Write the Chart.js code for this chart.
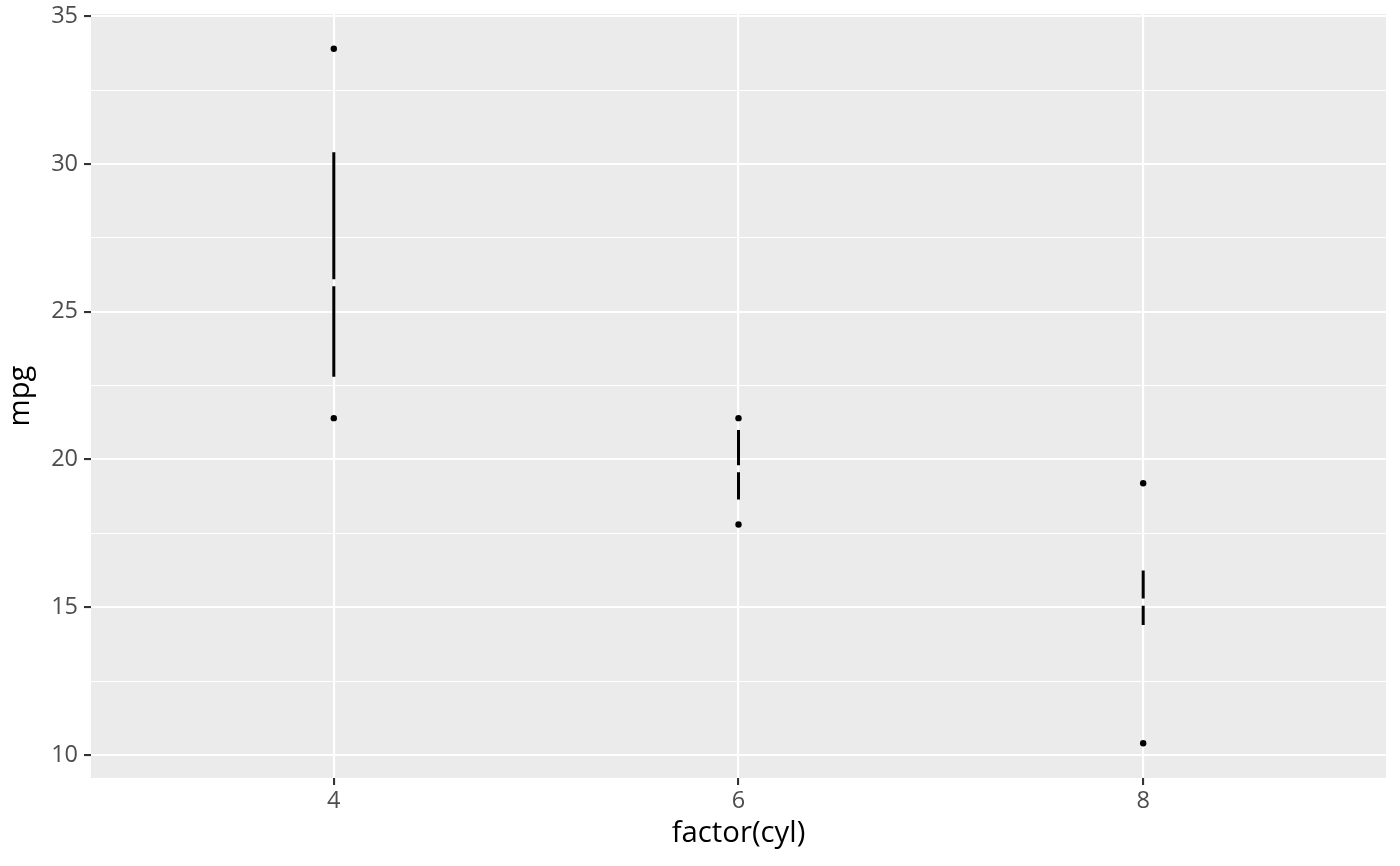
<!DOCTYPE html>
<html>
<head>
<meta charset="utf-8">
<script src="https://cdn.jsdelivr.net/npm/chart.js@4/dist/chart.umd.min.js"></script>
<style>
  html, body { margin: 0; padding: 0; background: #ffffff; }
  #chart { display: block; }
</style>
</head>
<body>
<canvas id="chart" width="1400" height="866" style="width:1400px;height:866px"></canvas>
<script>
// mpg by cylinder count (tufte style box plot)
const cylLabels = ['4', '6', '8'];
const mpgMin = [21.4, 17.8, 10.4];
const mpgMax = [33.9, 21.4, 19.2];
const mpgQ1 = [22.8, 18.65, 14.4];
const mpgQ3 = [30.4, 21.0, 16.25];
// ends of the gap drawn round the median
const gapLow = [25.86, 19.57, 15.05];
const gapHigh = [26.1, 19.81, 15.3];

const yTicks = [10, 12.5, 15, 17.5, 20, 22.5, 25, 27.5, 30, 32.5, 35];
const yMin = 9.225;
const yMax = 35.075;

const points = [];
const segments = [];
cylLabels.forEach(function (lab, i) {
    const x = i + 1;
    points.push({ x: x, y: mpgMax[i] });
    points.push({ x: x, y: mpgMin[i] });
    segments.push({ x: x, y: mpgQ3[i] });
    segments.push({ x: x, y: gapHigh[i] });
    segments.push({ x: x, y: null });
    segments.push({ x: x, y: gapLow[i] });
    segments.push({ x: x, y: mpgQ1[i] });
    segments.push({ x: x, y: null });
});

const isMajor = v => Math.abs(v % 5) < 1e-9;

const panelBg = {
    id: 'panelBg',
    beforeDraw(chart) {
        const a = chart.chartArea;
        const ctx = chart.ctx;
        ctx.save();
        ctx.fillStyle = '#EBEBEB';
        ctx.fillRect(a.left, a.top, a.right - a.left, a.bottom - a.top);
        ctx.restore();
    }
};

new Chart(document.getElementById('chart').getContext('2d'), {
    type: 'scatter',
    data: {
        datasets: [
            {
                type: 'line',
                data: segments,
                borderColor: '#000000',
                borderWidth: 3,
                borderCapStyle: 'butt',
                pointRadius: 0,
                spanGaps: false,
                fill: false
            },
            {
                data: points,
                backgroundColor: '#000000',
                borderWidth: 0,
                pointRadius: 3.2
            }
        ]
    },
    options: {
        responsive: false,
        devicePixelRatio: 1,
        animation: false,
        layout: { padding: { top: 14, right: 14, left: 0, bottom: 0 } },
        plugins: {
            legend: { display: false },
            tooltip: { enabled: false }
        },
        scales: {
            x: {
                type: 'linear',
                min: 0.4,
                max: 3.6,
                afterBuildTicks(scale) {
                    scale.ticks = cylLabels.map((l, i) => ({ value: i + 1 }));
                },
                afterFit(scale) {
                    scale.height = 88;
                    scale.paddingLeft = 0;
                    scale.paddingRight = 0;
                },
                grid: {
                    color: '#ffffff',
                    lineWidth: 2.1,
                    tickColor: '#333333',
                    tickLength: 7,
                    tickWidth: 2.1
                },
                border: { display: false },
                ticks: {
                    color: '#4D4D4D',
                    font: { family: 'Open Sans', size: 23.5 },
                    padding: 2,
                    maxRotation: 0,
                    callback: v => cylLabels[Math.round(v) - 1]
                },
                title: {
                    display: true,
                    text: 'factor(cyl)',
                    color: '#000000',
                    font: { family: 'Open Sans', size: 29.3 },
                    padding: { top: 0, bottom: 15 }
                }
            },
            y: {
                min: yMin,
                max: yMax,
                afterBuildTicks(scale) {
                    scale.ticks = yTicks.map(v => ({ value: v }));
                },
                afterFit(scale) {
                    scale.width = 91;
                    scale.paddingTop = 0;
                    scale.paddingBottom = 0;
                },
                grid: {
                    color: '#ffffff',
                    lineWidth: ctx => isMajor(ctx.tick.value) ? 2.1 : 1.1,
                    tickColor: ctx => isMajor(ctx.tick.value) ? '#333333' : 'rgba(0,0,0,0)',
                    tickLength: 7,
                    tickWidth: 2.1
                },
                border: { display: false },
                ticks: {
                    color: '#4D4D4D',
                    font: { family: 'Open Sans', size: 23.5 },
                    padding: 6,
                    autoSkip: false,
                    callback: v => isMajor(v) ? String(v) : ''
                },
                title: {
                    display: true,
                    text: 'mpg',
                    color: '#000000',
                    font: { family: 'Open Sans', size: 29.3 },
                    padding: { top: 3, bottom: 0 }
                }
            }
        }
    },
    plugins: [panelBg]
});
</script>
</body>
</html>
